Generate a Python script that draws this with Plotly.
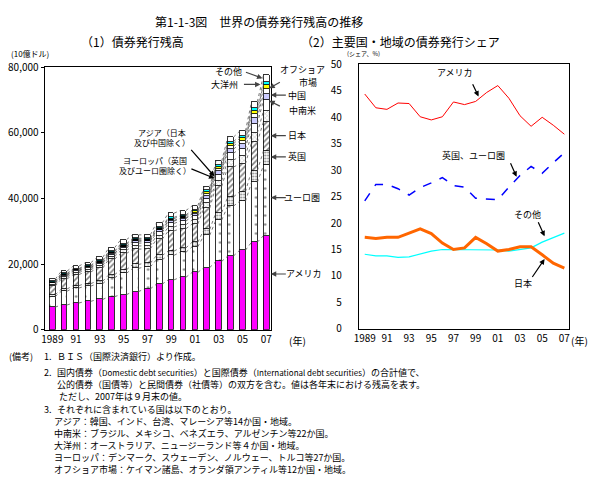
import plotly.graph_objects as go
import numpy as np

W, H = 605, 486
FONT = "Noto Sans CJK JP"

years = list(range(1989, 2008))
year_ticks = ["1989", "91", "93", "95", "97", "99", "01", "03", "05", "07"]

# (1) outstanding bonds (10億ドル)
america  = [6900, 7550, 8150, 8650, 9230, 10100, 10700, 11600, 12450, 13900, 15200, 16000, 17470, 18940, 20800, 22470, 24230, 26680, 28650]
euro     = [3200, 4200, 4560, 4650, 4790, 5730, 6500, 7080, 6700, 7430, 7480, 7600, 7820, 9850, 12600, 15200, 14900, 18200, 21400]
uk       = [530, 670, 740, 760, 790, 950, 1080, 1190, 1130, 1280, 1290, 1330, 1390, 1770, 2280, 2800, 2890, 3590, 4400]
japan    = [2660, 3050, 3360, 3530, 3990, 4730, 4940, 4680, 4340, 4970, 6140, 5840, 5550, 6500, 7950, 9090, 8470, 8610, 8910]
europe_o = [460, 520, 570, 620, 720, 770, 930, 960, 940, 1080, 1190, 1220, 1210, 1450, 1760, 2090, 2300, 2830, 3250]
asia     = [340, 380, 410, 450, 520, 560, 680, 870, 860, 980, 1080, 1110, 1100, 1450, 1760, 2090, 2300, 2830, 3250]
latam    = [210, 240, 260, 280, 330, 350, 420, 570, 560, 640, 700, 720, 720, 880, 1070, 1270, 1400, 1720, 2050]
china    = [40, 50, 50, 60, 70, 70, 80, 170, 170, 200, 220, 220, 220, 630, 770, 910, 1000, 1230, 1500]
offshore = [300, 330, 360, 390, 450, 490, 590, 430, 430, 490, 540, 550, 550, 500, 610, 730, 800, 990, 1200]
oceania  = [150, 170, 180, 200, 230, 240, 300, 300, 300, 340, 380, 390, 390, 440, 540, 640, 700, 860, 900]
others   = [610, 690, 760, 810, 930, 1010, 1230, 1050, 1020, 1190, 1280, 1320, 1330, 940, 1160, 1360, 1510, 1860, 1990]

# (2) shares, %
sh_america = [44.4, 41.8, 41.5, 42.7, 42.6, 40.1, 39.5, 40.1, 42.9, 42.4, 43.0, 44.7, 46.0, 43.6, 40.3, 38.3, 40.0, 38.5, 36.8]
sh_ukeuro  = [24.2, 27.3, 27.3, 26.5, 25.3, 26.7, 27.6, 28.6, 27.1, 26.8, 24.7, 24.6, 24.4, 26.8, 29.0, 30.7, 29.4, 31.4, 33.3]
sh_japan   = [17.3, 17.1, 17.3, 17.3, 18.1, 18.9, 18.0, 16.2, 15.0, 15.3, 17.3, 16.1, 14.7, 15.0, 15.5, 15.5, 14.0, 12.4, 11.5]
sh_other   = [14.1, 13.8, 13.8, 13.5, 13.6, 14.1, 14.7, 15.0, 15.0, 15.0, 14.9, 14.9, 14.9, 14.7, 15.0, 15.3, 16.4, 17.2, 18.1]

def px(x):
    return x / W

def py(y):
    return 1 - y / H

fig = go.Figure()
idx = list(range(len(years)))
BW = 0.48

offshore_colors = ["#000000"] * 12 + ["#FFFF00"] * 7

segments = [
    ("アメリカ", america, dict(color="#FF00FF")),
    ("ユーロ圏", euro, dict(color="white", pattern=dict(shape=".", fgcolor="black", size=9, solidity=0.06))),
    ("英国", uk, dict(color="white", pattern=dict(shape=".", fgcolor="black", size=3, solidity=0.35))),
    ("日本", japan, dict(color="white", pattern=dict(shape="/", fgcolor="black", size=4, solidity=0.4))),
    ("ヨーロッパ", europe_o, dict(color="white", pattern=dict(shape="x", fgcolor="#777777", size=3, solidity=0.3))),
    ("アジア", asia, dict(color="white")),
    ("中南米", latam, dict(color="#CCCCFF")),
    ("中国", china, dict(color="white")),
    ("オフショア市場", offshore, dict(color=offshore_colors)),
    ("大洋州", oceania, dict(color="#00FFFF")),
    ("その他", others, dict(color="white")),
]

for name, vals, mk in segments:
    m = dict(mk)
    m["line"] = dict(color="black", width=0.8)
    fig.add_trace(go.Bar(x=idx, y=vals, name=name, width=BW, marker=m,
                         xaxis="x", yaxis="y", showlegend=False))

# series lines between bars (connect segment tops)
cum = np.cumsum(np.array([s[1] for s in segments], dtype=float), axis=0)
for k in range(cum.shape[0]):
    xs, ys = [], []
    for i in range(len(idx) - 1):
        xs += [idx[i] + BW / 2, idx[i + 1] - BW / 2, None]
        ys += [cum[k][i], cum[k][i + 1], None]
    fig.add_trace(go.Scatter(x=xs, y=ys, mode="lines", xaxis="x", yaxis="y",
                             line=dict(color="#555555", width=0.8, dash="dot"),
                             showlegend=False, hoverinfo="skip"))

# right chart lines
fig.add_trace(go.Scatter(x=years, y=sh_america, mode="lines", xaxis="x2", yaxis="y2",
                         line=dict(color="#FF0000", width=1), showlegend=False))
fig.add_trace(go.Scatter(x=years, y=sh_ukeuro, mode="lines", xaxis="x2", yaxis="y2",
                         line=dict(color="#0000FF", width=1.5, dash="dash"), showlegend=False))
fig.add_trace(go.Scatter(x=years, y=sh_other, mode="lines", xaxis="x2", yaxis="y2",
                         line=dict(color="#00FFFF", width=1.2), showlegend=False))
fig.add_trace(go.Scatter(x=years, y=sh_japan, mode="lines", xaxis="x2", yaxis="y2",
                         line=dict(color="#FF6600", width=3), showlegend=False))

tickfont = dict(family=FONT, size=10, color="black")

fig.update_layout(
    width=W, height=H,
    margin=dict(l=0, r=0, t=0, b=0),
    paper_bgcolor="white", plot_bgcolor="white",
    barmode="stack", bargap=0,
    font=dict(family=FONT, size=10, color="black"),
    xaxis=dict(domain=[px(40), px(269)], range=[-0.65, 18.42],
               tickvals=list(range(0, 19, 2)), ticktext=year_ticks,
               showline=True, linecolor="black", linewidth=1, mirror=True,
               ticks="", showgrid=False, zeroline=False, tickfont=tickfont, anchor="y"),
    yaxis=dict(domain=[py(331.7), py(60)], range=[0, 80000],
               tickvals=[0, 20000, 40000, 60000, 80000],
               ticktext=["0", "20,000", "40,000", "60,000", "80,000"],
               showline=True, linecolor="black", linewidth=1, mirror=True,
               ticks="outside", ticklen=3, tickcolor="black",
               showgrid=False, zeroline=False, tickfont=tickfont, anchor="x"),
    xaxis2=dict(domain=[px(357.3), px(570)], range=[1988.46, 2007.45],
                tickvals=list(range(1989, 2008, 2)), ticktext=year_ticks,
                showline=True, linecolor="black", linewidth=1, mirror=True,
                ticks="", showgrid=False, zeroline=False, tickfont=tickfont, anchor="y2"),
    yaxis2=dict(domain=[py(330.7), py(57.3)], range=[0, 50],
                tickvals=list(range(0, 51, 5)),
                showline=True, linecolor="black", linewidth=1, mirror=True,
                ticks="", ticklabelstandoff=14,
                showgrid=False, zeroline=False, tickfont=tickfont, anchor="x2"),
)

ann = []

def text(x, y, t, size=9, xanchor="center"):
    ann.append(dict(x=px(x), y=py(y), xref="paper", yref="paper", text=t, showarrow=False,
                    xanchor=xanchor, yanchor="middle", borderpad=0,
                    font=dict(family=FONT, size=size, color="black")))

def arrow(x0, y0, x1, y1, color="black", width=1.2):
    ann.append(dict(x=px(x1), y=py(y1), xref="paper", yref="paper", text="",
                    showarrow=True, ax=x0 - x1, ay=y0 - y1, axref="pixel", ayref="pixel",
                    arrowhead=2, arrowsize=0.9, arrowwidth=width, arrowcolor=color))

# titles
text(257, 13, "第1-1-3図　世界の債券発行残高の推移", size=12)
text(129, 33.5, "（1）債券発行残高", size=12)
text(399, 33.5, "（2）主要国・地域の債券発行シェア", size=12)
text(5, 46, "(10億ドル)", size=8, xanchor="left")
text(344, 46, "(シェア、%)", size=6, xanchor="left")
text(295, 343, "(年)", size=10)
text(580, 343, "(年)", size=10)

# left chart labels
text(226, 65, "その他", size=9)
arrow(242, 65, 260, 71.7, color="#444444")
text(222, 78, "大洋州", size=9)
arrow(240, 78, 258, 78, color="#444444")
text(300, 63, "オフショア", size=9)
text(306, 76, "市場", size=9)
arrow(279, 75, 267, 82, color="#444444")
text(295, 89, "中国", size=9)
arrow(285, 89, 268.5, 89, color="#444444")
text(300, 105, "中南米", size=9)
arrow(279, 101, 267, 95, color="#444444")
text(295, 131, "日本", size=9)
arrow(285, 131, 268.5, 131, color="#444444")
text(295, 153, "英国", size=9)
arrow(285, 153, 268.5, 153, color="#444444")
text(300, 195, "ユーロ圏", size=9)
arrow(285, 195, 268.5, 195, color="#444444")
text(302, 274, "アメリカ", size=9)
arrow(285, 274, 268.5, 274, color="#444444")
text(159, 128, "アジア（日本", size=8)
text(159, 138, "及び中国除く）", size=8)
arrow(187, 145, 211.5, 173)
text(151, 157, "ヨーロッパ（英国", size=8)
text(151, 167, "及びユーロ圏除く）", size=8)
arrow(187, 165, 211.5, 175)

# right chart labels
text(455, 66, "アメリカ", size=9)
arrow(471.7, 76.7, 478.3, 90.5)
text(473, 152, "英国、ユーロ圏", size=9)
arrow(510, 158.5, 516.7, 173.5)
text(528, 213, "その他", size=9)
arrow(538, 219.5, 545, 235)
text(523, 284, "日本", size=9)
arrow(531.7, 278, 545, 258.5)

# notes
NS = 9
notes = [
    (3, 359, "(備考)"),
    (38, 359, "1."),
    (52, 359, "ＢＩＳ（国際決済銀行）より作成。"),
    (38, 376, "2."),
    (52, 376, "国内債券（<span style='font-size:8px'>Domestic debt securities</span>）と国際債券（<span style='font-size:8px'>International debt securities</span>）の合計値で、"),
    (52, 388.5, "公的債券（国債等）と民間債券（社債等）の双方を含む。値は各年末における残高を表す。"),
    (54, 401, "ただし、2007年は９月末の値。"),
    (38, 414, "3."),
    (52, 414, "それぞれに含まれている国は以下のとおり。"),
    (48, 426.5, "アジア：韓国、インド、台湾、マレーシア等14か国・地域。"),
    (48, 439, "中南米：ブラジル、メキシコ、ベネズエラ、アルゼンチン等22か国。"),
    (48, 451.5, "大洋州：オーストラリア、ニュージーランド等４か国・地域。"),
    (48, 464, "ヨーロッパ：デンマーク、スウェーデン、ノルウェー、トルコ等27か国。"),
    (48, 476.5, "オフショア市場：ケイマン諸島、オランダ領アンティル等12か国・地域。"),
]
for x, y, t in notes:
    text(x, y, t, size=NS, xanchor="left")

fig.update_layout(annotations=ann)
fig.write_html("out.html")
